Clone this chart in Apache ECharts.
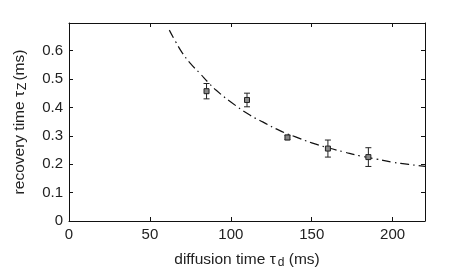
<!DOCTYPE html>
<html><head><meta charset="utf-8">
<script src="https://cdn.jsdelivr.net/npm/echarts@6/dist/echarts.min.js"></script>
<style>html,body{margin:0;padding:0;background:#fff}#c{width:469px;height:276px}</style>
</head><body><div id="c"></div>
<script>
// measured points
var diffusionTime = [85, 110, 135, 160, 185];
var recoveryTime = [0.457, 0.426, 0.294, 0.255, 0.225];
var errorHalf = [0.027, 0.024, 0.008, 0.030, 0.033];
// fitted curve
var fitX = [62, 66, 70, 75, 81, 86, 91, 100, 112, 120, 130, 140, 150, 160, 170, 180, 190, 200, 210, 220];
var fitY = [0.672, 0.630, 0.592, 0.555, 0.519, 0.488, 0.460, 0.419, 0.372, 0.348, 0.319, 0.296, 0.275, 0.258, 0.243, 0.229, 0.218, 0.207, 0.199, 0.192];
var xTicks = [0, 50, 100, 150, 200];
var yTicks = [0, 0.1, 0.2, 0.3, 0.4, 0.5, 0.6];

var font = 'Liberation Sans, Arial, sans-serif';
var txt = '#222';
var chart = echarts.init(document.getElementById('c'));
var axisCommon = {
  axisLine: {show: true, onZero: false, lineStyle: {color: '#111', width: 1}},
  axisTick: {show: true, inside: true, length: 4, lineStyle: {color: '#111'}},
  splitLine: {show: false}
};
chart.setOption({
  animation: false,
  grid: {left: 69, top: 23, right: 44, bottom: 55, containLabel: false},
  xAxis: [
    Object.assign({type: 'value', min: 0, max: 220, interval: 50, position: 'bottom',
      axisLabel: {color: txt, fontFamily: font, fontSize: 15, margin: 6,
        formatter: function (v) { return xTicks.indexOf(v) >= 0 ? String(v) : ''; }},
      name: '{a|diffusion time τ}{s|d}{a| (ms)}', nameLocation: 'middle', nameGap: 29,
      nameTextStyle: {rich: {a: {fontFamily: font, fontSize: 15.5, color: txt},
        s: {fontFamily: font, fontSize: 12, color: txt, padding: [7, 0, 0, 2]}}}
    }, axisCommon),
    Object.assign({type: 'value', min: 0, max: 220, interval: 50, position: 'top',
      axisLabel: {show: false}}, axisCommon)
  ],
  yAxis: [
    Object.assign({type: 'value', min: 0, max: 0.697, interval: 0.1, position: 'left',
      axisLabel: {color: txt, fontFamily: font, fontSize: 15, margin: 6,
        formatter: function (v) {
          for (var i = 0; i < yTicks.length; i++) if (Math.abs(yTicks[i] - v) < 1e-6) return String(yTicks[i]);
          return '';
        }},
      name: '{a|recovery time τ}{s|Z}{a|(ms)}', nameLocation: 'middle', nameGap: 40,
      nameTextStyle: {rich: {a: {fontFamily: font, fontSize: 15.5, color: txt},
        s: {fontFamily: font, fontSize: 12, color: txt, padding: [7, 2, 0, 1]}}}
    }, axisCommon),
    Object.assign({type: 'value', min: 0, max: 0.697, interval: 0.1, position: 'right',
      axisLabel: {show: false}}, axisCommon)
  ],
  series: [
    {
      type: 'line', data: fitX.map(function (x, i) { return [x, fitY[i]]; }),
      smooth: true, showSymbol: false, symbol: 'none',
      lineStyle: {color: '#111', width: 1.2, type: [9, 4, 1.5, 4]}, z: 2
    },
    {
      type: 'custom', z: 3,
      data: diffusionTime.map(function (x, i) { return [x, recoveryTime[i], errorHalf[i]]; }),
      renderItem: function (params, api) {
        var x = api.value(0), y = api.value(1), e = api.value(2);
        var top = api.coord([x, y + e]), bot = api.coord([x, y - e]), c = api.coord([x, y]);
        var cap = 3, st = {stroke: '#222', lineWidth: 1};
        return {type: 'group', children: [
          {type: 'line', shape: {x1: top[0], y1: top[1], x2: bot[0], y2: bot[1]}, style: st},
          {type: 'line', shape: {x1: top[0] - cap, y1: top[1], x2: top[0] + cap, y2: top[1]}, style: st},
          {type: 'line', shape: {x1: bot[0] - cap, y1: bot[1], x2: bot[0] + cap, y2: bot[1]}, style: st},
          {type: 'rect', shape: {x: c[0] - 2.5, y: c[1] - 2.5, width: 5, height: 5},
            style: {fill: '#888', stroke: '#222', lineWidth: 1}}
        ]};
      }
    }
  ]
});
</script></body></html>
